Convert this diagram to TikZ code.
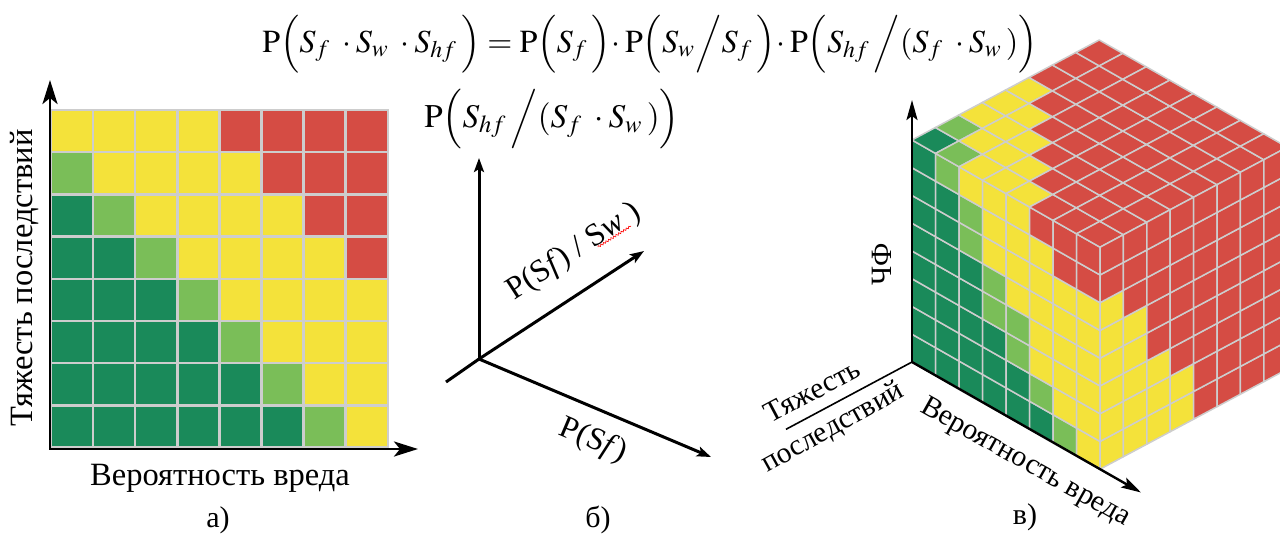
\documentclass[tikz,border=0pt]{standalone}
\usepackage{mathptmx}
\usepackage{fontspec}
\setmainfont{Liberation Serif}
\usepackage{graphicx}
\usetikzlibrary{arrows.meta,decorations.pathmorphing}
\definecolor{cD}{RGB}{26,138,90}
\definecolor{cL}{RGB}{122,190,88}
\definecolor{cY}{RGB}{244,226,58}
\definecolor{cR}{RGB}{213,76,68}
\definecolor{gridc}{RGB}{205,205,205}
\tikzset{
  lab/.style={font=\fontsize{32.5}{38}\selectfont, inner sep=0pt},
  labb/.style={font=\fontsize{32}{38}\selectfont, inner sep=0pt},
  labc/.style={font=\fontsize{29.5}{35}\selectfont, inner sep=0pt},
  capt/.style={font=\fontsize{30}{36}\selectfont, inner sep=0pt},
  cellA/.style={draw=gridc, line width=2.5pt},
  cellC/.style={draw=gridc, line width=1.5pt, line join=round},
  axA/.style={line width=2.8pt, line join=miter},
  tipA/.tip={Stealth[length=24pt,width=15pt,inset=6pt]},
  axB/.style={line width=3pt, -{Stealth[length=14pt,width=10pt,inset=3pt]}},
  axBplain/.style={line width=3pt},
  axC/.style={line width=2.4pt, -{Stealth[length=20pt,width=11pt,inset=4pt]}},
  axCplain/.style={line width=1.6pt},
}
\begin{document}
\begin{tikzpicture}[x=1pt,y=-1pt]
\useasboundingbox (0,0) rectangle (1280,536);
\clip (0,0) rectangle (1280,536);
\fill[white] (0,0) rectangle (1280,536);

% ---------- equation ----------
\node[inner sep=0pt] (eq) at (650,44) {\resizebox{775pt}{!}{$\mathrm{P}\Bigl(S_{f}\;\cdot S_{w}\;\cdot S_{hf}\,\Bigr)=\mathrm{P}\Bigl(S_{f}\,\Bigr)\!\cdot\mathrm{P}\Bigl(S_{w}\Big/S_{f}\,\Bigr)\!\cdot\mathrm{P}\Bigl(S_{hf}\,\Big/(S_{f}\;\cdot S_{w}\,)\Bigr)$}};

% ---------- panel a ----------
\foreach \r in {0,...,7}{
 \foreach \cl in {0,...,7}{
  \pgfmathtruncatemacro\dd{\cl-\r}
  \ifnum\dd<-1 \def\cc{cD}\else\ifnum\dd=-1 \def\cc{cL}\else\ifnum\dd<4 \def\cc{cY}\else\def\cc{cR}\fi\fi\fi
  \pgfmathsetmacro\px{51+42.1*\cl}
  \pgfmathsetmacro\py{110+42.2*\r}
  \filldraw[cellA, fill=\cc] (\px,\py) rectangle ++(42.1,42.2);
 }
}
\coordinate (aO) at (50,449);
\coordinate (aY) at (50,80);
\coordinate (aX) at (418,449);
\draw[axA, tipA-tipA] (aY) -- (aO) -- (aX);
\node[lab, rotate=90] (aYl) at (25,278) {Тяжесть последствий};
\node[lab] (aXl) at (220,478) {Вероятность вреда};
\node[capt] (aCap) at (218,520) {а)};

% ---------- panel b ----------
\node[inner sep=0pt] (bTop) at (552,119) {\resizebox{255pt}{!}{$\mathrm{P}\Bigl(S_{hf}\,\Big/(S_{f}\;\cdot S_{w}\,)\Bigr)$}};
\coordinate (bO) at (479,359);
\coordinate (bU) at (479,158);
\coordinate (bR) at (644,251);
\coordinate (bD) at (711,457);
\coordinate (bB) at (446,382);
\draw[axBplain] (bB) -- (bO);
\draw[axB] (bO) -- (bU);
\draw[axB] (bO) -- (bR);
\draw[axB] (bO) -- (bD);
\node[labb, rotate=33] (bMid) at (574,252) {P(S\textit{f}) / S\textit{w} )};
\coordinate (sq1) at (598,247);
\coordinate (sq2) at (631,226);
\draw[red, line width=0.6pt, decorate, decoration={snake, amplitude=1pt, segment length=3pt}] (sq1) -- (sq2);
\node[labb, rotate=-23] (bLow) at (593,441) {P(S\textit{f})};
\node[capt] (bCap) at (598,520) {б)};

% ---------- panel c: cube ----------
% left face (i along X, k vertical)
\foreach \i/\ta/\tb/\tc in {0/8/8/8,1/7/8/8,2/5/7/8,3/3/5/8,4/2/4/8,5/1/2/7,6/0/1/6,7/0/0/6}{
 \foreach \k in {0,...,7}{
  \ifnum\k<\ta \def\cc{cD}\else\ifnum\k<\tb \def\cc{cL}\else\ifnum\k<\tc \def\cc{cY}\else\def\cc{cR}\fi\fi\fi
  \pgfmathsetmacro\px{912+23.5*\i}
  \pgfmathsetmacro\py{362+13.4*\i-27.75*\k}
  \filldraw[cellC, fill=\cc] (\px,\py) -- ++(23.5,13.4) -- ++(0,-27.75) -- ++(-23.5,-13.4) -- cycle;
 }
}
% top face (i along X, j along depth)
\foreach \i in {0,...,7}{
 \foreach \j in {0,...,7}{
  \pgfmathtruncatemacro\ss{\i+\j}
  \ifnum\ss=0 \def\cc{cD}\else\ifnum\ss=1 \def\cc{cL}\else\ifnum\ss<5 \def\cc{cY}\else\def\cc{cR}\fi\fi\fi
  \pgfmathsetmacro\px{912+23.5*\i+23.4*\j}
  \pgfmathsetmacro\py{140+13.4*\i-12.5*\j}
  \filldraw[cellC, fill=\cc] (\px,\py) -- ++(23.5,13.4) -- ++(23.4,-12.5) -- ++(-23.5,-13.4) -- cycle;
 }
}
% right face (j along depth, k vertical)
\foreach \j/\ty in {0/6,1/5,2/3,3/2,4/0,5/0,6/0,7/0}{
 \foreach \k in {0,...,7}{
  \ifnum\k<\ty \def\cc{cY}\else\def\cc{cR}\fi
  \pgfmathsetmacro\px{1100+23.4*\j}
  \pgfmathsetmacro\py{469.2-12.5*\j-27.75*\k}
  \filldraw[cellC, fill=\cc] (\px,\py) -- ++(23.4,-12.5) -- ++(0,-27.75) -- ++(-23.4,12.5) -- cycle;
 }
}
\coordinate (cO) at (912,362);
\coordinate (cZ) at (912,100);
\coordinate (cX) at (1141,492.5);
\coordinate (cD) at (786,429.3);
\draw[axC] (cO) -- (cZ);
\draw[axC] (cO) -- (cX);
\draw[axCplain] (cO) -- (cD);
\node[labc, rotate=90] (cZl) at (882,264) {ЧФ};
\node[labc, rotate=28] (cDl1) at (812,391) {Тяжесть};
\node[labc, rotate=29] (cDl2) at (833,428) {последствий};
\node[labc, rotate=-29.3] (cXl) at (1025,463) {Вероятность вреда};
\node[capt] (cCap) at (1025,517) {в)};
\end{tikzpicture}
\end{document}
